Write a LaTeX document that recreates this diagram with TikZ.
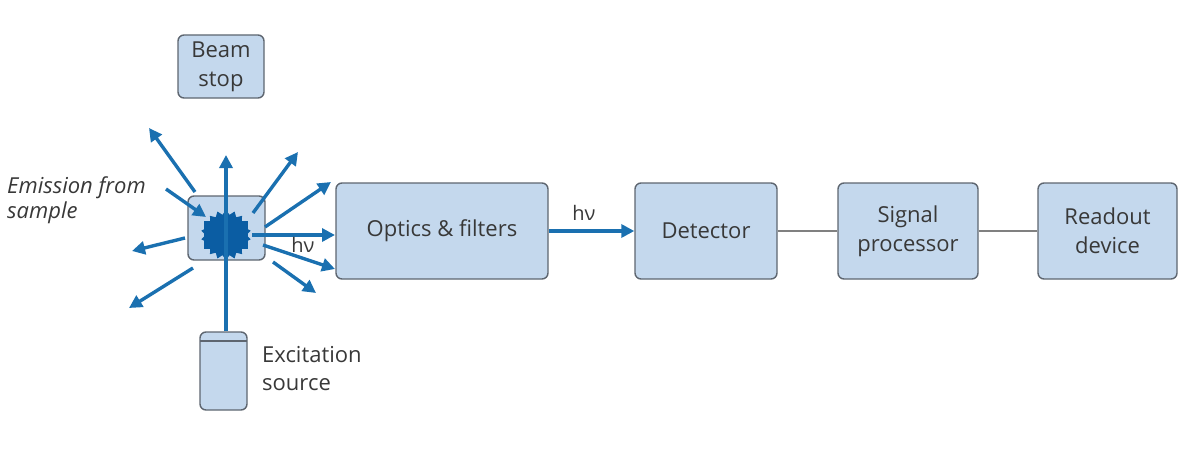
\documentclass[tikz,border=0pt]{standalone}
\usepackage{fontspec}
\setmainfont{Open Sans}
\usetikzlibrary{shapes.geometric,arrows.meta}
\definecolor{boxfill}{HTML}{C4D8ED}
\definecolor{boxdraw}{HTML}{5E6670}
\definecolor{ray}{HTML}{1A70B0}
\definecolor{burstc}{HTML}{0B5DA3}
\definecolor{txt}{HTML}{383838}
\begin{document}
\begin{tikzpicture}[x=1pt,y=-1pt,
  box/.style={draw=boxdraw, line width=1.4pt, fill=boxfill, rounded corners=6pt, inner sep=0pt, text=txt, align=center, font=\fontsize{22}{29}\selectfont},
  rayarrow/.style={draw=ray, line width=3.4pt, -{Triangle[length=13pt,width=13pt]}},
  link/.style={draw=gray, line width=1.2pt},
  lbl/.style={text=txt, font=\fontsize{22}{28}\selectfont, align=left, inner sep=0pt}]
\useasboundingbox (0,0) rectangle (1202,452);
% boxes
\node[box, minimum width=86pt, minimum height=63pt] (beam) at (221,66.5) {Beam\\stop};
\node[box, minimum width=212pt, minimum height=96pt] (optics) at (442,231) {Optics \& filters};
\node[box, minimum width=142pt, minimum height=96pt] (detector) at (706,231) {Detector};
\node[box, minimum width=140pt, minimum height=96pt] (signal) at (908,231) {Signal\\processor};
\node[box, minimum width=139pt, minimum height=96pt] (readout) at (1107.5,231) {Readout\\device};
% excitation source
\node[box, minimum width=47pt, minimum height=78pt,
  path picture={\draw[boxdraw, line width=1.8pt] ([yshift=-9pt]path picture bounding box.north west) -- ([yshift=-9pt]path picture bounding box.north east);}] (exc) at (223.5,371) {};
\node[lbl, anchor=west] (exclbl) at (262,369) {Excitation\\source};
% sample
\node[box, minimum width=77pt, minimum height=64pt] (sample) at (226.5,228) {};
\node[fill=burstc, minimum width=44pt, minimum height=28pt, inner sep=0pt] (burstcore) at (226,235) {};
\node[star, star points=18, star point ratio=1.22, minimum size=50pt, fill=burstc, inner sep=0pt] (burst) at (226,235) {};
% emission label
\node[lbl, anchor=west, font=\fontsize{22}{25}\selectfont\itshape] (emis) at (7,200) {Emission from\\sample};
% ray coordinates
\coordinate (s1) at (195,192); \coordinate (t1) at (149,128);
\coordinate (s2) at (166,189); \coordinate (t2) at (206,217);
\coordinate (s3) at (253,213); \coordinate (t3) at (298,152);
\coordinate (s4) at (265,227); \coordinate (t4) at (331,182);
\coordinate (s5) at (252,235); \coordinate (t5) at (335,235);
\coordinate (s6) at (263,245); \coordinate (t6) at (335,269);
\coordinate (s7) at (273,262); \coordinate (t7) at (316,293);
\coordinate (s8) at (185,238); \coordinate (t8) at (132,251);
\coordinate (s9) at (193,268); \coordinate (t9) at (129,308);
\coordinate (tup) at (226,155);
\foreach \i in {1,...,9}{\draw[rayarrow] (s\i) -- (t\i);}
\draw[rayarrow] (exc.north -| tup) -- (tup);
\node[text=txt, font=\fontsize{20}{22}\selectfont, inner sep=0pt] (hv1) at (303,245) {hν};
% main chain
\draw[rayarrow] (optics.east) -- (detector.west);
\node[text=txt, font=\fontsize{20}{22}\selectfont, inner sep=0pt] (hv2) at (584,213) {hν};
\draw[link] (detector) -- (signal);
\draw[link] (signal) -- (readout);
\end{tikzpicture}
\end{document}
